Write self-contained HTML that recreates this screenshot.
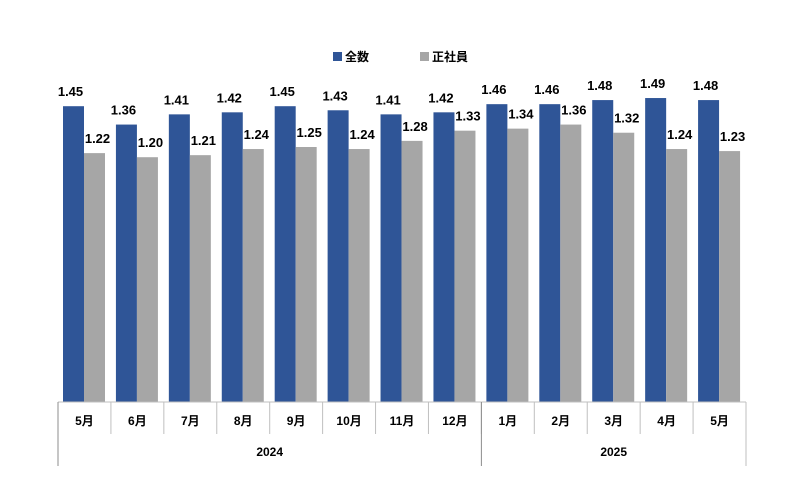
<!DOCTYPE html>
<html><head><meta charset="utf-8"><style>
body{margin:0;background:#fff;}
svg text{font-family:"Liberation Sans","Noto Sans CJK JP",sans-serif;font-weight:bold;fill:#000;}
</style></head><body>
<svg id="c" width="800" height="493" xmlns="http://www.w3.org/2000/svg">
<g>
<rect x="333" y="52" width="9" height="9" fill="#2f5597"/>
<text x="345" y="61" font-size="12">全数</text>
<rect x="420" y="52" width="9" height="9" fill="#a6a6a6"/>
<text x="432" y="61" font-size="12">正社員</text>
</g>
</svg>
<script>
const months=["5月","6月","7月","8月","9月","10月","11月","12月","1月","2月","3月","4月","5月"];
const totalValues=[1.45,1.36,1.41,1.42,1.45,1.43,1.41,1.42,1.46,1.46,1.48,1.49,1.48];
const fulltimeValues=[1.22,1.20,1.21,1.24,1.25,1.24,1.28,1.33,1.34,1.36,1.32,1.24,1.23];
const years=["2024","2025"];
const yearSpans=[8,5];
const svg=document.getElementById('c');
const NS="http://www.w3.org/2000/svg";
const x0=58,x1=746,base=402,k=204;
const gw=(x1-x0)/months.length;
const bw=21;
function xs(i){return x0+i*gw;}
function ys(v){return base-v*k;}
function mk(t,a,txt){const e=document.createElementNS(NS,t);for(const n in a)e.setAttribute(n,a[n]);if(txt!==undefined)e.textContent=txt;svg.appendChild(e);return e;}
months.forEach((m,i)=>{
  const gx=xs(i)+5;
  const b1=mk('rect',{x:gx,y:ys(totalValues[i]),width:bw,height:totalValues[i]*k,fill:'#2f5597'});
  
  
  const b2=mk('rect',{x:gx+bw,y:ys(fulltimeValues[i]),width:bw,height:fulltimeValues[i]*k,fill:'#a6a6a6'});
  
  
  const t1=mk('text',{x:gx+bw/2-3,y:ys(totalValues[i])-10,'font-size':13,'text-anchor':'middle'},totalValues[i].toFixed(2));
  
  
  const t2=mk('text',{x:gx+bw*1.5+3,y:ys(fulltimeValues[i])-10,'font-size':13,'text-anchor':'middle'},fulltimeValues[i].toFixed(2));
  
  
  const ml=mk('text',{x:xs(i)+gw/2,y:425,'font-size':12,'text-anchor':'middle'},m);
  
  
  if(i>0){const l=mk('line',{x1:xs(i),x2:xs(i),y1:base,y2:434,stroke:'#bfbfbf','stroke-width':1});
  
  }
});
const ax=mk('line',{x1:x0,x2:x1,y1:base,y2:base,stroke:'#bfbfbf','stroke-width':1});


let acc=0;
years.forEach((y,j)=>{
  const a=xs(acc),b=xs(acc+yearSpans[j]);
  const t=mk('text',{x:(a+b)/2,y:456,'font-size':12,'text-anchor':'middle'},y);
  
  
  const l=mk('line',{x1:a,x2:a,y1:base,y2:466,stroke:'#8c8c8c','stroke-width':1});
  
  
  acc+=yearSpans[j];
});
const le=mk('line',{x1:x1,x2:x1,y1:base,y2:466,stroke:'#bfbfbf','stroke-width':1});


</script>
</body></html>
